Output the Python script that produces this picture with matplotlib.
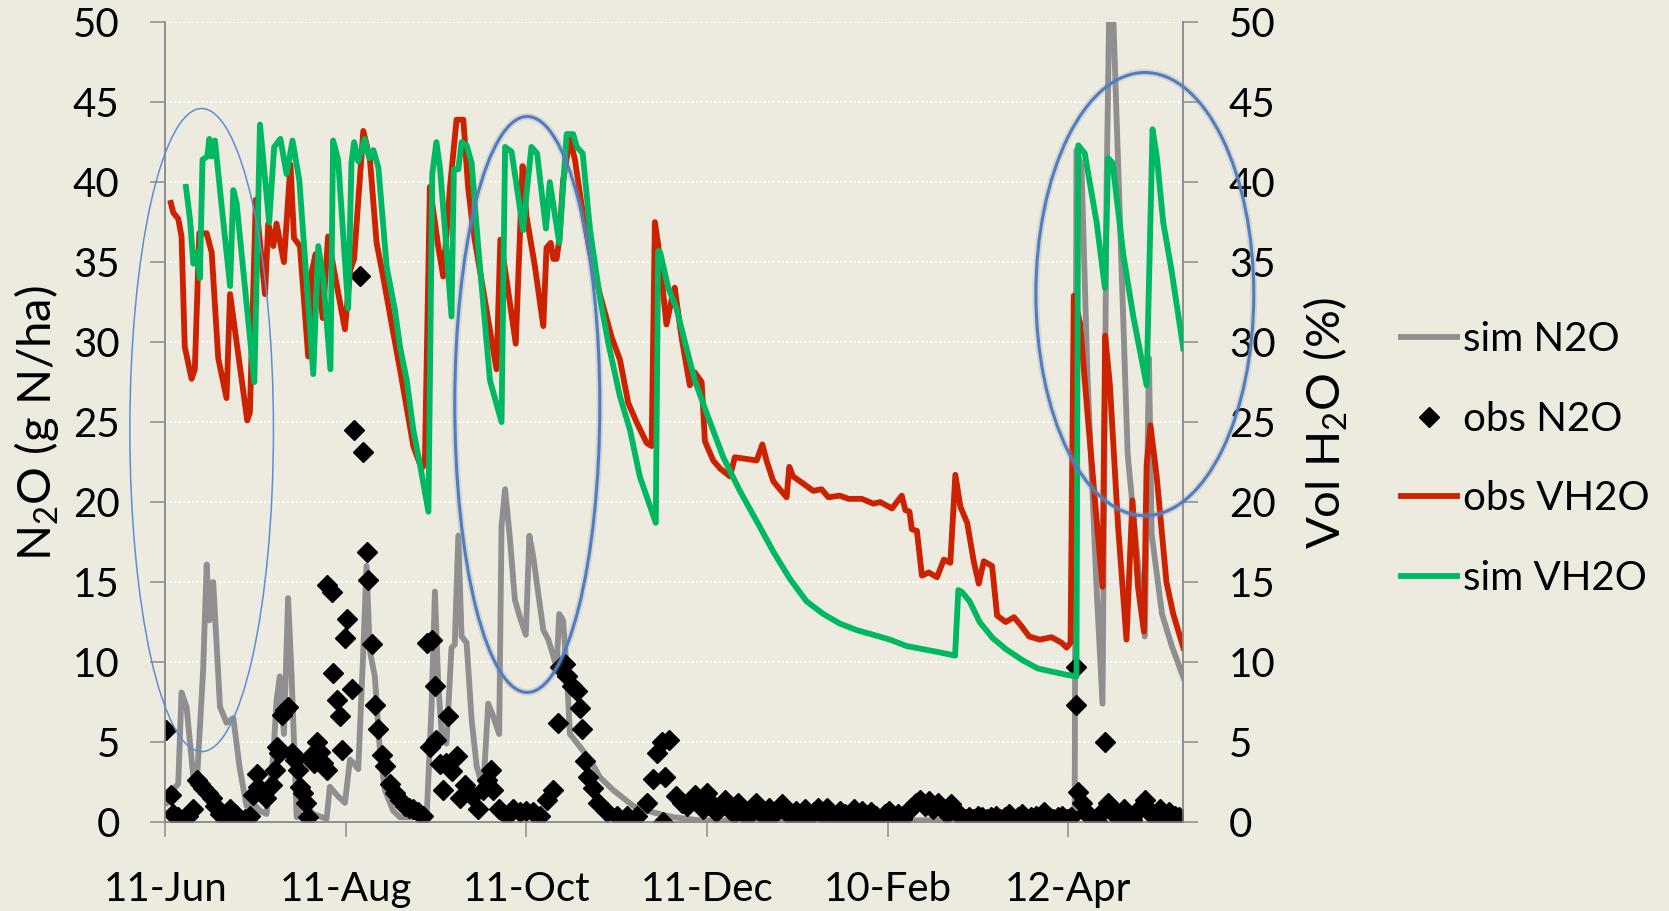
import matplotlib
matplotlib.use("Agg")
import matplotlib.pyplot as plt
import matplotlib.patheffects as pe
from matplotlib.lines import Line2D
from matplotlib.patches import Ellipse

plt.rcParams['font.family'] = ['Lato', 'DejaVu Sans']
plt.rcParams['mathtext.fontset'] = 'custom'
plt.rcParams['mathtext.rm'] = 'Lato'

# days after 11-Jun
tick_days = [0, 61, 122, 183, 244, 305]
tick_labels = ['11-Jun', '11-Aug', '11-Oct', '11-Dec', '10-Feb', '12-Apr']

# simulated N2O (g N/ha)
sim_n2o_day = [0.5, 2.7, 4.4, 5.5, 7.2, 9.5, 10.6, 12.8, 14.0, 14.9, 16.2, 18.5, 20.7, 23.0, 25.2,
               27.5, 29.5, 32.0, 34.2, 36.5, 37.6, 38.7, 40.1, 41.5, 42.7, 44.4, 46.6, 50.0, 54.5,
               55.6, 58.4, 60.7, 62.4, 63.5, 65.2, 66.9, 68.0, 69.1, 70.8, 72.5, 74.2, 77.0, 79.3,
               88.3, 90.0, 91.1, 92.2, 93.4, 95.0, 96.7, 97.8, 99.0, 100.1, 101.8, 103.5, 105.2,
               107.4, 109.1, 110.8, 112.8, 113.6, 114.8, 116.4, 118.1, 119.8, 121.8, 123.0, 124.3,
               126.0, 127.7, 129.4, 132.2, 133.1, 134.4, 135.6, 136.7, 140.1, 143.5, 146.8, 151.3,
               158.1, 164.8, 171.6, 180.6, 250.0, 307.2, 307.8, 309.5, 311.5, 314.6, 316.6, 318.0,
               319.3, 320.3, 325.1, 330.9, 332.3, 333.2, 336.7, 340.0, 344.0]
sim_n2o = [1.2, 2.0, 2.4, 8.1, 7.2, 2.8, 2.2, 9.5, 16.1, 12.6, 15.0, 7.2, 6.2, 6.5, 3.3,
           1.0, 1.2, 0.7, 0.5, 4.1, 7.6, 9.1, 5.5, 14.0, 9.1, 0.3, 1.2, 0.5, 0.2,
           2.2, 1.6, 1.2, 3.9, 3.7, 3.3, 10.7, 16.0, 10.7, 9.1, 4.5, 2.0, 0.7, 0.3,
           0.3, 7.4, 14.4, 8.7, 5.5, 4.9, 10.9, 11.1, 17.9, 11.6, 11.2, 6.4, 3.5,
           2.0, 7.4, 6.6, 5.5, 18.5, 20.8, 17.8, 13.9, 12.8, 11.7, 17.9, 16.6,
           14.3, 12.0, 11.4, 9.7, 13.0, 12.6, 9.5, 5.5, 4.7, 3.9, 2.8, 2.0,
           1.0, 0.6, 0.3, 0.1, 0.1, 0.2, 42.0, 41.0, 28.0, 14.6, 7.4, 40.0,
           56.0, 50.0, 23.0, 11.6, 29.0, 18.0, 13.0, 11.0, 9.0]

# observed N2O (g N/ha)
obs_n2o_day = [0.2, 1.8, 2.7, 4.4, 6.1, 7.8, 9.5, 10.6, 11.7, 12.8, 14.5, 15.7, 16.8, 18.5, 20.2,
               21.9, 23.5, 25.2, 26.9, 28.6, 29.7, 30.9, 31.4, 32.6, 34.2, 35.9, 37.0, 37.6, 38.5,
               39.3, 40.4, 41.5, 42.7, 43.8, 44.9, 45.5, 46.6, 47.7, 48.3, 49.4, 50.2, 51.1, 52.2,
               53.4, 54.5, 54.5, 56.2, 56.7, 57.9, 59.0, 59.6, 60.7, 61.5, 63.0, 63.7, 65.8, 66.7,
               68.0, 68.6, 69.7, 70.8, 71.9, 73.1, 74.2, 75.9, 77.6, 79.3, 80.9, 82.5, 83.8, 85.5,
               87.2, 88.3, 89.4, 90.0, 91.1, 91.6, 92.8, 93.9, 95.0, 95.6, 96.7, 98.4, 99.5, 101.2,
               103.5, 105.7, 107.4, 108.8, 110.2, 110.8, 112.9, 115.3, 117.5, 119.8, 122.0, 124.3,
               126.5, 128.8, 131.1, 132.8, 133.3, 135.0, 135.6, 137.3, 139.0, 140.1, 140.7, 141.8,
               142.9, 144.6, 146.3, 149.1, 152.5, 155.9, 159.2, 162.6, 164.8, 166.0, 167.7, 168.3,
               168.9, 170.0, 172.7, 174.5, 176.1, 177.5, 178.9, 180.2, 181.5, 183.0, 184.5, 186.0,
               187.5, 189.0, 190.5, 192.0, 193.5, 195.0, 196.5, 198.0, 199.5, 201.0, 202.5, 204.0,
               205.5, 207.0, 208.5, 210.0, 211.5, 213.0, 214.5, 216.0, 217.5, 219.0, 220.5, 222.0,
               223.5, 225.0, 226.5, 228.0, 229.5, 231.0, 232.5, 234.0, 235.5, 237.0, 238.5, 240.0,
               241.5, 243.0, 244.5, 246.0, 247.5, 249.0, 250.5, 252.0, 253.5, 255.0, 256.5, 258.0,
               259.5, 261.0, 262.5, 264.0, 265.5, 267.0, 268.5, 270.0, 271.5, 273.0, 274.5, 276.0,
               277.5, 279.0, 280.5, 282.0, 283.5, 285.0, 286.5, 288.0, 289.5, 291.0, 292.5, 294.0,
               295.5, 297.0, 298.5, 300.0, 301.5, 303.0, 304.5, 306.0, 307.5, 307.5, 308.2, 309.6,
               311.0, 312.5, 314.0, 315.0, 316.5, 317.6, 318.6, 320.0, 321.5, 323.0, 323.7, 325.0,
               326.5, 328.0, 329.5, 330.9, 332.5, 334.0, 335.9, 337.5, 339.0, 341.0, 342.5, 344.0]
obs_n2o = [5.75, 1.7, 0.5, 0.3, 0.2, 0.4, 0.8, 2.6, 2.4, 2.1, 1.8, 1.5, 1.0, 0.5, 0.2,
           0.8, 0.5, 0.2, 0.2, 0.4, 1.7, 3.0, 2.2, 1.8, 1.5, 2.3, 3.25, 4.7, 4.3,
           6.7, 7.0, 7.2, 4.3, 3.9, 3.25, 2.2, 1.8, 1.2, 0.3, 4.1, 3.7, 5.0, 4.4,
           3.7, 3.25, 14.8, 14.4, 9.3, 7.6, 6.6, 4.5, 11.5, 12.7, 8.3, 24.5, 34.1, 23.1,
           16.9, 15.1, 11.1, 7.3, 5.8, 4.2, 3.5, 2.4, 1.8, 1.4, 1.0, 0.9, 0.8, 0.6,
           0.4, 11.2, 4.7, 11.4, 8.5, 5.1, 3.6, 2.0, 3.7, 6.6, 3.2, 4.1, 1.5, 2.3,
           1.6, 0.8, 2.0, 2.6, 3.25, 2.0, 0.8, 0.4, 0.8, 0.6, 0.7, 0.6,
           0.4, 1.4, 2.0, 6.2, 9.7, 9.9, 9.1, 8.5, 8.2, 7.1, 5.8, 3.8,
           2.8, 2.1, 1.2, 0.6, 0.4, 0.4, 0.4, 1.2, 2.7, 4.3, 5.0, 0.0,
           2.8, 5.1, 1.6, 1.2, 1.0, 1.4, 1.7, 1.1, 0.8, 1.8, 1.2, 0.6,
           1.0, 1.4, 0.9, 0.5, 1.2, 0.7, 0.3, 0.8, 1.2, 0.6, 0.3, 0.9,
           0.5, 0.8, 1.1, 0.6, 0.3, 0.7, 0.4, 0.8, 0.3, 0.6, 0.9, 0.5,
           0.9, 0.4, 0.2, 0.7, 0.5, 0.3, 0.8, 0.4, 0.7, 0.3, 0.6, 0.4,
           0.2, 0.5, 0.7, 0.3, 0.5, 0.2, 0.6, 0.9, 1.2, 1.4, 1.0, 1.3,
           0.8, 1.2, 0.9, 0.5, 1.1, 0.7, 0.4, 0.2, 0.3, 0.2, 0.4, 0.3,
           0.2, 0.3, 0.4, 0.2, 0.3, 0.5, 0.2, 0.3, 0.5, 0.2, 0.3, 0.4,
           0.2, 0.6, 0.3, 0.2, 0.3, 0.4, 0.2, 0.3, 9.7, 7.3, 1.9, 1.2,
           0.6, 0.3, 0.2, 0.0, 0.6, 5.0, 1.2, 0.7, 0.3, 0.5, 0.8, 0.4,
           0.1, 0.6, 0.9, 1.4, 0.7, 0.3, 0.8, 0.4, 0.6, 0.4, 0.3, 0.2]

# observed volumetric water (%)
obs_vh2o_day = [1.9, 2.7, 4.4, 5.5, 6.6, 8.9, 10.0, 11.5, 14.0, 15.7, 17.9, 20.7, 21.9, 25.2, 27.7,
                28.6, 30.6, 33.7, 34.8, 36.5, 37.6, 40.1, 42.3, 43.5, 45.5, 48.3, 49.6, 50.8, 53.2,
                55.0, 57.0, 60.7, 62.5, 63.8, 66.9, 69.1, 71.4, 73.6, 77.0, 79.3, 83.8, 86.6, 87.7,
                89.4, 92.2, 93.9, 96.2, 98.4, 100.7, 102.3, 104.0, 109.1, 111.9, 113.2, 115.3, 118.4,
                120.7, 122.0, 124.9, 127.7, 128.8, 130.2, 131.1, 132.2, 133.1, 134.4, 136.7, 138.4,
                140.7, 143.5, 146.8, 150.8, 153.6, 156.4, 159.2, 162.6, 164.3, 165.4, 166.5, 169.3,
                171.0, 172.1, 174.4, 177.2, 178.9, 181.2, 182.3, 185.1, 187.4, 190.8, 192.4, 199.8,
                201.7, 203.1, 205.4, 207.6, 209.9, 210.8, 212.1, 214.4, 218.9, 221.7, 224.0, 227.9,
                230.8, 235.3, 239.2, 241.5, 245.5, 248.8, 250.0, 251.4, 252.2, 253.9, 255.6, 257.9,
                260.7, 263.0, 265.2, 266.9, 268.6, 270.9, 273.1, 274.8, 276.5, 279.3, 281.0, 283.9,
                286.7, 289.0, 291.8, 295.4, 299.4, 302.8, 304.5, 305.8, 306.9, 309.0, 311.5, 314.1,
                316.6, 317.5, 319.1, 321.9, 324.7, 326.7, 328.6, 330.6, 331.5, 332.8, 334.9, 338.2,
                340.5, 343.9]
obs_vh2o = [38.7, 38.1, 37.7, 36.6, 29.7, 27.7, 28.3, 36.8, 36.8, 35.6, 29.0, 26.5, 33.0, 28.5, 25.1,
            25.6, 38.9, 33.0, 37.4, 36.0, 37.4, 35.0, 41.1, 36.5, 36.0, 29.1, 34.5, 35.5, 31.5,
            36.6, 34.5, 30.8, 34.5, 35.2, 43.2, 41.5, 36.2, 34.1, 30.6, 28.3, 23.5, 22.1, 22.4,
            39.7, 36.0, 34.1, 39.7, 43.9, 43.9, 39.7, 37.0, 31.4, 28.3, 36.4, 33.9, 29.9,
            41.0, 37.9, 34.7, 31.0, 35.9, 36.2, 35.2, 35.2, 36.4, 40.1, 42.7, 41.4,
            38.5, 35.6, 33.0, 30.3, 28.9, 26.2, 25.0, 23.7, 23.5, 37.5, 36.1, 31.1,
            32.6, 33.4, 30.3, 27.3, 28.1, 27.5, 23.8, 22.6, 22.1, 21.6, 22.8, 22.6,
            23.6, 22.6, 21.3, 20.8, 20.3, 22.2, 21.6, 21.3, 20.7, 20.8, 20.3, 20.4,
            20.2, 20.2, 19.9, 20.0, 19.6, 20.4, 19.5, 19.4, 18.3, 18.2, 15.4, 15.6,
            15.3, 16.4, 16.2, 21.7, 19.7, 18.7, 16.3, 14.9, 16.3, 16.0, 12.9, 12.5,
            12.8, 12.3, 11.6, 11.4, 11.55, 11.2, 10.9, 11.2, 32.9, 31.2, 25.6, 20.0,
            14.7, 30.4, 27.3, 18.4, 11.4, 20.1, 14.7, 11.9, 22.3, 24.8, 21.6, 15.0,
            13.0, 10.9]

# simulated volumetric water (%)
sim_vh2o_day = [7.0, 8.4, 9.5, 10.6, 11.7, 12.6, 14.2, 14.9, 15.7, 16.8, 18.5, 21.9, 23.0, 24.1,
                30.1, 32.0, 35.1, 36.8, 38.9, 41.0, 43.0, 45.3, 50.0, 51.7, 53.4, 55.8, 56.7, 58.4,
                61.8, 62.9, 63.8, 65.2, 67.4, 68.9, 70.3, 72.0, 74.8, 77.6, 79.3, 81.6, 83.8, 86.0,
                88.9, 90.2, 91.6, 92.8, 94.5, 96.7, 97.5, 99.0, 100.1, 101.8, 103.5, 105.7, 109.7,
                113.6, 114.8, 117.0, 120.9, 122.0, 123.7, 125.6, 128.6, 129.9, 133.1, 135.6, 137.8,
                139.0, 141.0, 143.5, 146.8, 149.7, 153.6, 157.0, 160.3, 165.7, 166.5, 167.2, 169.9,
                172.7, 176.1, 178.9, 182.8, 188.5, 194.1, 199.8, 205.4, 211.0, 216.6, 222.3, 227.9,
                233.5, 239.2, 244.8, 250.4, 256.1, 261.7, 266.8, 267.9, 269.0, 271.7, 275.1, 279.5,
                284.0, 289.7, 294.7, 299.5, 304.5, 307.8, 308.4, 310.6, 314.6, 317.4, 318.5, 320.0,
                323.6, 327.0, 331.5, 333.5, 335.0, 337.1, 339.9, 343.9]
sim_vh2o = [39.7, 37.6, 34.9, 35.6, 34.0, 41.4, 41.6, 42.7, 41.6, 42.6, 39.5, 33.5, 39.5, 38.7,
            27.5, 43.6, 37.5, 42.2, 42.7, 40.5, 42.6, 40.1, 28.0, 36.0, 33.9, 28.3, 42.6, 41.4,
            32.1, 41.2, 42.5, 41.3, 42.7, 41.5, 42.0, 40.9, 34.7, 32.0, 29.7, 27.6, 24.5, 22.4,
            19.4, 40.5, 42.5, 40.9, 37.0, 31.6, 40.8, 40.8, 42.5, 42.3, 41.2, 36.0, 27.6,
            25.0, 42.2, 41.9, 37.0, 39.2, 42.2, 41.8, 37.1, 40.0, 36.2, 43.0, 43.0,
            42.2, 41.8, 37.0, 32.8, 29.9, 26.6, 24.5, 21.6, 18.7, 35.7, 35.6, 33.4,
            32.1, 29.6, 27.6, 25.6, 22.8, 20.7, 18.8, 16.9, 15.2, 13.8, 13.0, 12.4,
            12.0, 11.7, 11.4, 11.0, 10.8, 10.6, 10.4, 14.5, 14.4, 13.8, 12.5, 11.5,
            10.8, 10.1, 9.6, 9.4, 9.2, 9.1, 42.3, 41.8, 37.5, 33.4, 41.5, 41.2,
            35.5, 31.6, 27.3, 43.3, 41.5, 37.5, 34.5, 29.6]

# highlighted periods (centre day, centre value, width in days, height)
highlights = [(12.3, 24.5, 48.5, 40.2), (122.3, 26.1, 49.0, 36.0), (330.9, 33.0, 73.6, 27.7)]

BG = '#EDEAE0'
AXC = '#8C8C8C'
LW = 4.2

fig = plt.figure(figsize=(16.69, 9.11), dpi=100, facecolor=BG)
ax = fig.add_axes([0.099, 0.0977, 0.61, 0.878])
ax.set_facecolor(BG)
ax2 = ax.twinx()

ax.plot(sim_n2o_day, sim_n2o, color='#8F8F8F', lw=LW, solid_joinstyle='round', zorder=2)
ax.plot(obs_n2o_day, obs_n2o, ls='none', marker='D', ms=10.2, color='black', zorder=3)
ax2.plot(obs_vh2o_day, obs_vh2o, color='#CC2200', lw=LW, solid_joinstyle='round', zorder=2)
ax2.plot(sim_vh2o_day, sim_vh2o, color='#00B862', lw=LW, solid_joinstyle='round', zorder=3)

for i, (cx, cy, w, h) in enumerate(highlights):
    e = Ellipse((cx, cy), w, h, fill=False, clip_on=False, zorder=10,
                edgecolor='#5B8FD3' if i == 0 else '#4F7DBF', lw=1.1 if i == 0 else 2.2)
    if i > 0:
        e.set_path_effects([pe.Stroke(linewidth=5, foreground='#8a93a3', alpha=0.25), pe.Normal()])
    ax2.add_patch(e)

for a in (ax, ax2):
    a.set_xlim(0, 343.9)
    a.set_ylim(0, 50)
    a.set_yticks(range(0, 51, 5))
    for s in a.spines.values():
        s.set_color(AXC)
        s.set_linewidth(1.1)
    a.spines['top'].set_visible(False)
    a.tick_params(axis='y', length=10.8, width=1.1, color=AXC, labelsize=29, pad=22)

ax.set_xticks(tick_days)
ax.set_xticklabels(tick_labels)
ax.tick_params(axis='x', length=11, width=1.1, color=AXC, labelsize=29, pad=24)
ax.yaxis.grid(True, color='white', lw=1.2, ls=(0, (1.5, 1.2)))
ax.set_axisbelow(True)

fig.text(37 / 1669, 488 / 911, 'N$\\mathregular{_2}$O (g N/ha)', rotation=90,
         ha='center', va='center', fontsize=34)
fig.text(1326 / 1669, 488 / 911, 'Vol H$\\mathregular{_2}$O (%)', rotation=90,
         ha='center', va='center', fontsize=34)

handles = [
    Line2D([0], [0], color='#8F8F8F', lw=LW, label='sim N2O'),
    Line2D([0], [0], ls='none', marker='D', ms=10, color='black', label='obs N2O'),
    Line2D([0], [0], color='#CC2200', lw=LW, label='obs VH2O'),
    Line2D([0], [0], color='#00B862', lw=LW, label='sim VH2O'),
]
fig.legend(handles=handles, loc='center left', bbox_to_anchor=(0.8394, 0.496),
           frameon=False, fontsize=29, handlelength=1.39, handletextpad=0.15,
           labelspacing=1.06, borderpad=0, borderaxespad=0)

fig.savefig('out.png', dpi=100, facecolor=BG)
